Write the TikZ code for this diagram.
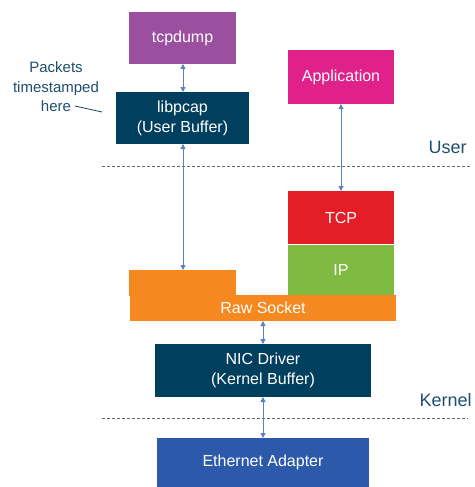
\documentclass[tikz,border=0pt]{standalone}
\usepackage{fontspec}
\setmainfont{Liberation Sans}
\usetikzlibrary{arrows.meta}
\definecolor{cpurple}{HTML}{9B4F9F}
\definecolor{cteal}{HTML}{013F5E}
\definecolor{cpink}{HTML}{E0218A}
\definecolor{cred}{HTML}{E31E26}
\definecolor{cgreen}{HTML}{80BB41}
\definecolor{corange}{HTML}{F5881F}
\definecolor{cblue}{HTML}{2D59AA}
\definecolor{carrow}{HTML}{5A82BD}
\definecolor{ctext}{HTML}{1F4E6E}
\tikzset{
  blk/.style={anchor=north west, inner sep=0pt, outer sep=0pt, text=white, align=center,
    font=\fontsize{16}{20}\selectfont},
  conn/.style={draw=carrow, line width=1pt, {Triangle[width=5pt,length=5pt]}-{Triangle[width=5pt,length=5pt]}},
  sep/.style={draw=gray!80!black, line width=0.8pt, dash pattern=on 3pt off 2pt},
  lbl/.style={text=ctext, font=\fontsize{18}{20}\selectfont}
}
\begin{document}
\begin{tikzpicture}[x=1pt,y=-1pt]
\useasboundingbox (0,0) rectangle (474,487);
% boxes
\node[blk, fill=cpurple, minimum width=107pt, minimum height=52pt] (tcpdump) at (129,12) {tcpdump};
\node[blk, fill=cteal, minimum width=133pt, minimum height=52pt] (libpcap) at (116,92) {libpcap\\(User Buffer)};
\node[blk, fill=cpink, minimum width=106pt, minimum height=54pt] (app) at (288,50) {Application};
\node[blk, fill=cred, minimum width=106pt, minimum height=53pt] (tcp) at (288,191) {TCP};
\node[blk, fill=cgreen, minimum width=106pt, minimum height=50pt] (ip) at (288,245) {IP};
\node[blk, fill=corange, minimum width=107pt, minimum height=26pt] (rawtop) at (129,270) {};
\node[blk, fill=corange, minimum width=266pt, minimum height=26pt] (raw) at (130,295) {Raw Socket};
\node[blk, fill=cteal, minimum width=216pt, minimum height=53pt] (nic) at (155,344) {NIC Driver\\(Kernel Buffer)};
\node[blk, fill=cblue, minimum width=212pt, minimum height=49pt] (eth) at (157,438) {Ethernet Adapter};
% labels
\node[text=ctext, align=center, font=\fontsize{15}{19.5}\selectfont] (pkt) at (56,87) {Packets\\timestamped\\here};
\coordinate (pa) at (75,106);
\coordinate (pb) at (102,112);
\draw[ctext!80!black, line width=0.8pt] (pa) -- (pb);
\node[lbl, anchor=south west] (user) at (425,157) {User};
\node[lbl, anchor=south west] (kernel) at (416,410) {Kernel};
% separators
\coordinate (s1a) at (102,166); \coordinate (s1b) at (470,166);
\coordinate (s2a) at (102,418); \coordinate (s2b) at (468,418);
\draw[sep] (s1a) -- (s1b);
\draw[sep] (s2a) -- (s2b);
% connectors
\draw[conn] (tcpdump.south -| 183,0) -- (libpcap.north -| 183,0);
\draw[conn] (libpcap.south -| 183,0) -- (rawtop.north -| 183,0);
\draw[conn] (app.south -| 341,0) -- (tcp.north -| 341,0);
\draw[conn] (raw.south -| 263,0) -- (nic.north -| 263,0);
\draw[conn] (nic.south -| 263,0) -- (eth.north -| 263,0);
\end{tikzpicture}
\end{document}
